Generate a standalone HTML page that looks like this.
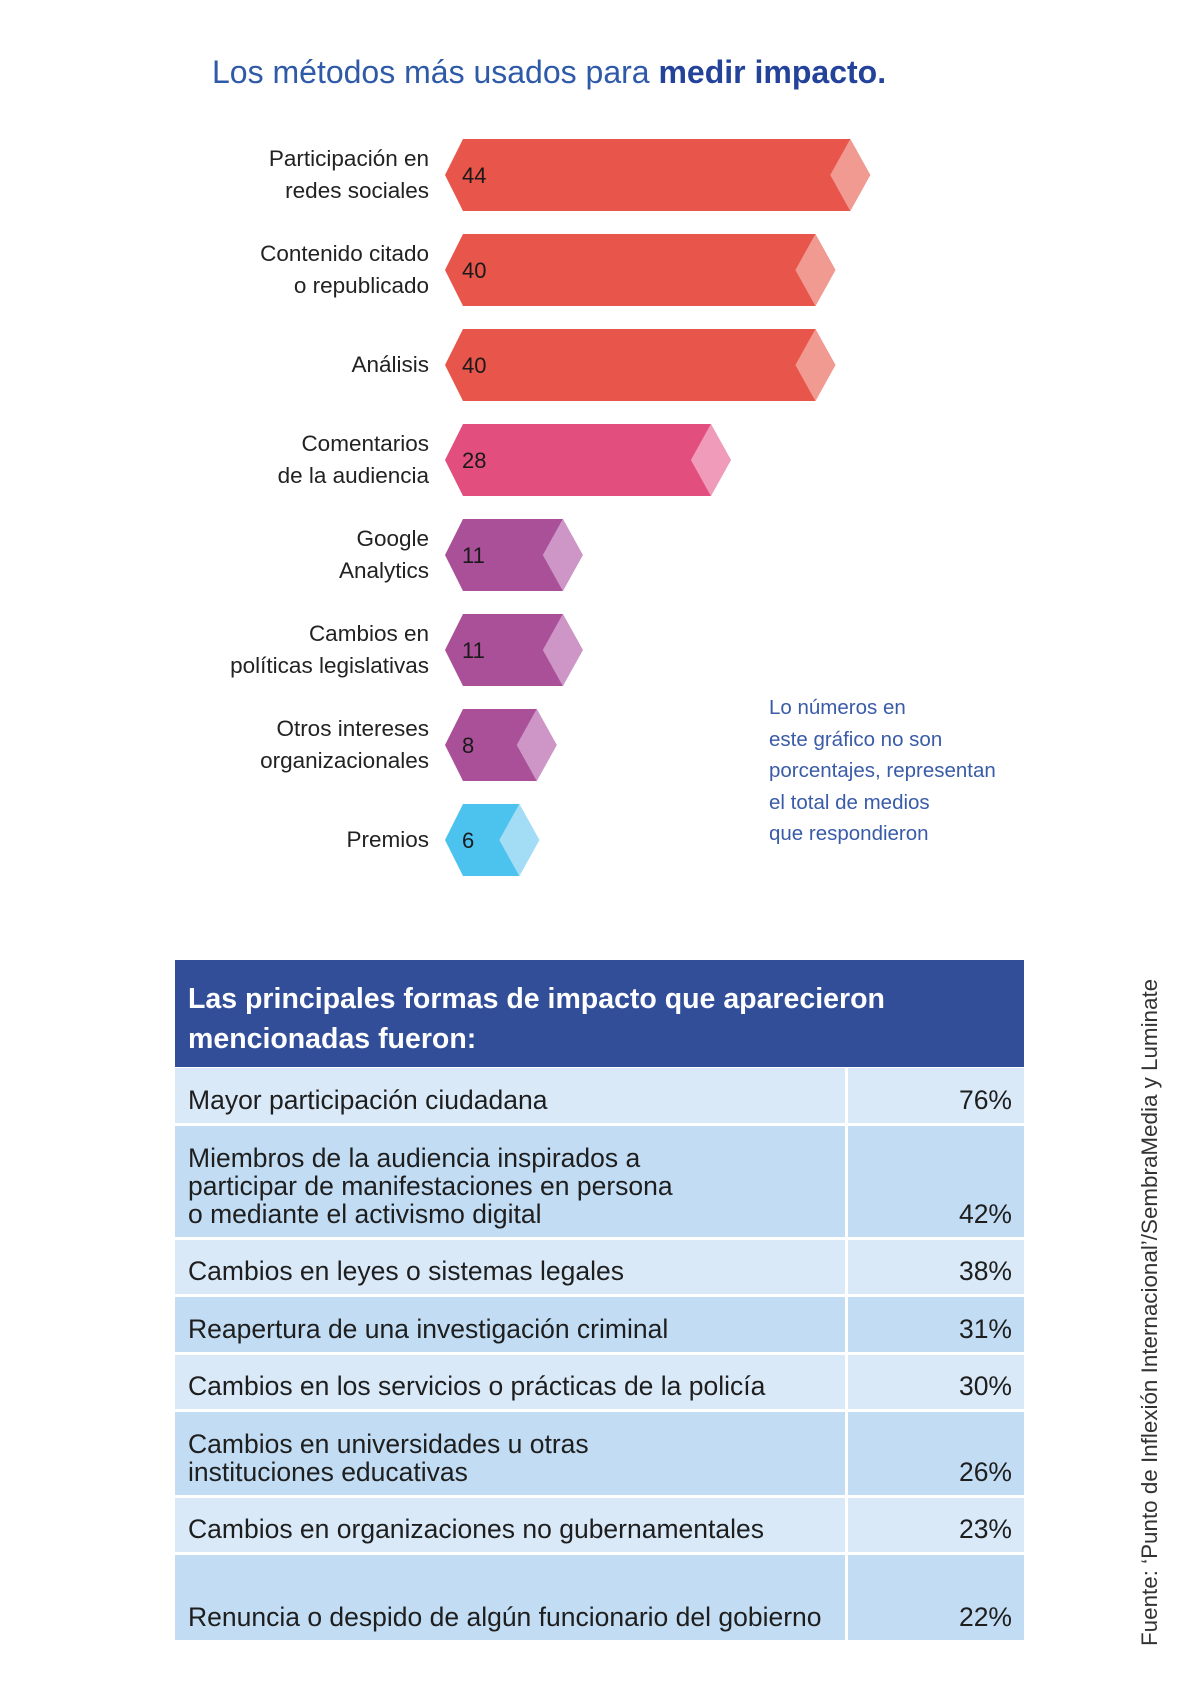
<!DOCTYPE html>
<html><head><meta charset="utf-8"><style>
body{margin:0;background:#fff;width:1200px;height:1688px;position:relative;overflow:hidden;font-family:"Liberation Sans",sans-serif}
.title{position:absolute;left:212px;top:54px;font-size:32px;color:#2f5aa8;white-space:nowrap}
.title b{color:#23429a}
.lbl{position:absolute;right:771px;text-align:right;font-size:22.5px;line-height:32px;color:#222}
.note{position:absolute;left:769px;top:692px;font-size:20.5px;line-height:31.5px;color:#3a5ba8}
.tbl{position:absolute;left:175px;top:960px;width:849px}
.hdr{background:#324e99;color:#fff;font-weight:bold;font-size:28.5px;line-height:40px;padding:19px 13px 0;height:107px;box-sizing:border-box}
.row{display:flex;margin-top:3px}
.row .c1,.row .c2{display:flex;align-items:flex-end;box-sizing:border-box;font-size:26.5px;line-height:28px;color:#1e1e1e;padding-bottom:9px;white-space:nowrap}
.c1{width:670px;padding-left:13px}
.c2{width:176px;margin-left:3px;justify-content:flex-end;padding-right:12px}
.a .c1,.a .c2{background:#d9e9f8}
.b .c1,.b .c2{background:#c1dcf3}
.src{position:absolute;left:1137px;top:1646px;transform-origin:0 0;transform:rotate(-90deg);font-size:22.4px;color:#333;white-space:nowrap}
</style></head><body>
<div class="title">Los métodos más usados para <b>medir impacto.</b></div>
<svg id="chart" width="1200" height="900" style="position:absolute;left:0;top:0"></svg>
<div id="labels"></div>
<div class="note">Lo números en<br>este gráfico no son<br>porcentajes, representan<br>el total de medios<br>que respondieron</div>

<div class="tbl">
<div class="hdr">Las principales formas de impacto que aparecieron<br>mencionadas fueron:</div>
<div class="row a" style="height:55px;margin-top:1px"><div class="c1">Mayor participación ciudadana</div><div class="c2">76%</div></div>
<div class="row b" style="height:111px"><div class="c1">Miembros de la audiencia inspirados a<br>participar de manifestaciones en persona<br>o mediante el activismo digital</div><div class="c2">42%</div></div>
<div class="row a" style="height:54px"><div class="c1">Cambios en leyes o sistemas legales</div><div class="c2">38%</div></div>
<div class="row b" style="height:55px"><div class="c1">Reapertura de una investigación criminal</div><div class="c2">31%</div></div>
<div class="row a" style="height:54px"><div class="c1">Cambios en los servicios o prácticas de la policía</div><div class="c2">30%</div></div>
<div class="row b" style="height:83px"><div class="c1">Cambios en universidades u otras<br>instituciones educativas</div><div class="c2">26%</div></div>
<div class="row a" style="height:54px"><div class="c1">Cambios en organizaciones no gubernamentales</div><div class="c2">23%</div></div>
<div class="row b" style="height:85px"><div class="c1">Renuncia o despido de algún funcionario del gobierno</div><div class="c2">22%</div></div>
</div>
<div class="src">Fuente: ‘Punto de Inflexión Internacional’/SembraMedia y Luminate</div>

<script>
const categories = ["Participación en<br>redes sociales","Contenido citado<br>o republicado","Análisis","Comentarios<br>de la audiencia","Google<br>Analytics","Cambios en<br>políticas legislativas","Otros intereses<br>organizacionales","Premios"];
const values = [44,40,40,28,11,11,8,6];
const colorGroups = ["red","red","red","pink","purple","purple","purple","blue"];

const palette={red:["#e8554a","#f19a92"],pink:["#e24f7f","#ef9bb9"],purple:["#a95099","#cd96c7"],blue:["#4cc3ee","#a2dcf5"]};
const svg=document.getElementById('chart');
const NS='http://www.w3.org/2000/svg';
const xScale=v=>467+v*8.71;
const yScale=i=>175+i*95;
const H=36;
function poly(pts,fill,name){
  const p=document.createElementNS(NS,'polygon');
  p.setAttribute('points',pts.map(a=>a.join(',')).join(' '));
  p.setAttribute('fill',fill);
  
  
  svg.appendChild(p);return p;
}
const labels=document.getElementById('labels');
values.forEach((v,i)=>{
  const cy=yScale(i),r=xScale(v),c=palette[colorGroups[i]];
  poly([[463,cy-H],[r,cy-H],[r+20,cy],[r,cy+H],[463,cy+H],[445,cy]],c[0],'bar');
  poly([[r-20,cy],[r,cy-H],[r+20,cy],[r,cy+H]],c[1],'bar-cap');
  const t=document.createElementNS(NS,'text');
  t.setAttribute('x',462);t.setAttribute('y',cy+8);
  t.setAttribute('font-size','22');t.setAttribute('fill','#1a1a1a');
  t.setAttribute('font-family','Liberation Sans, sans-serif');
  t.textContent=v;
  
  
  svg.appendChild(t);
  const d=document.createElement('div');
  d.className='lbl';
  const lines=categories[i].split('<br>').length;
  d.style.top=(cy-lines*16)+'px';
  d.innerHTML=categories[i];
  
  
  labels.appendChild(d);
});
</script>
</body></html>
